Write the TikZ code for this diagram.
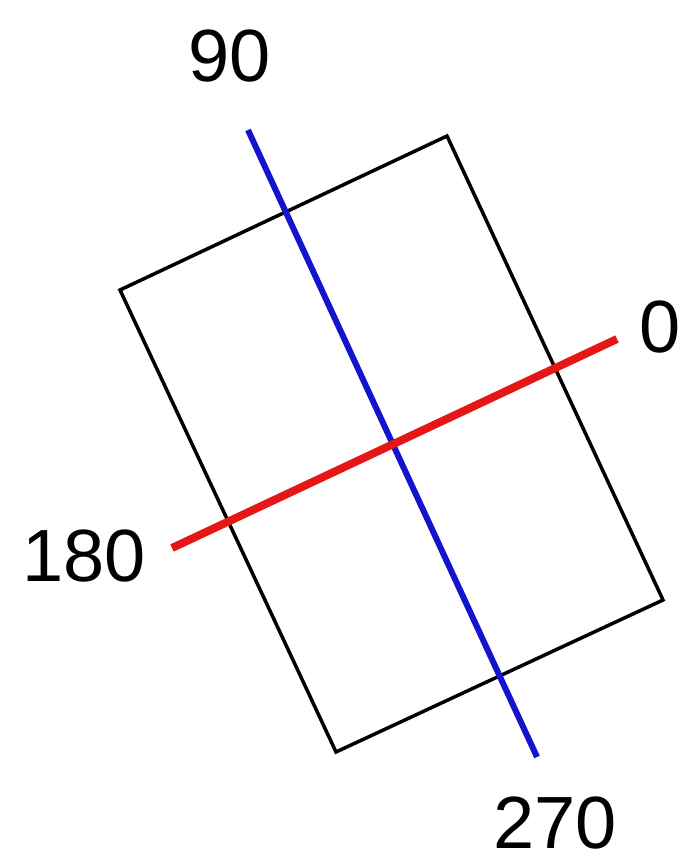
\documentclass[tikz,border=0pt]{standalone}
\usepackage{fontspec}
\setmainfont{Liberation Sans}
\definecolor{axred}{RGB}{228,22,22}
\definecolor{axblue}{RGB}{20,20,205}
\begin{document}
\begin{tikzpicture}[x=1pt,y=-1pt,
  lbl/.style={inner sep=0pt,font=\fontsize{74}{78}\selectfont},
  box/.style={draw=black,line width=3.5pt,line join=miter},
  redax/.style={draw=axred,line width=8pt},
  blueax/.style={draw=axblue,line width=6pt}]
\useasboundingbox (0,0) rectangle (691,866);
\coordinate (tl) at (120,290);
\coordinate (tr) at (447,136);
\coordinate (br) at (663,600);
\coordinate (bl) at (336,752);
\draw[box] (tl) -- (tr) -- (br) -- (bl) -- cycle;
\coordinate (b1) at (248,130);
\coordinate (b2) at (537,757);
\coordinate (r1) at (172,548);
\coordinate (r2) at (617,339);
\draw[blueax] (b1) -- (b2);
\draw[redax] (r1) -- (r2);
\node[lbl] (n90) at (230,56) {90};
\node[lbl] (n0) at (660,327) {0};
\node[lbl] (n180) at (84,556) {180};
\node[lbl] (n270) at (555,823) {270};
\end{tikzpicture}
\end{document}
